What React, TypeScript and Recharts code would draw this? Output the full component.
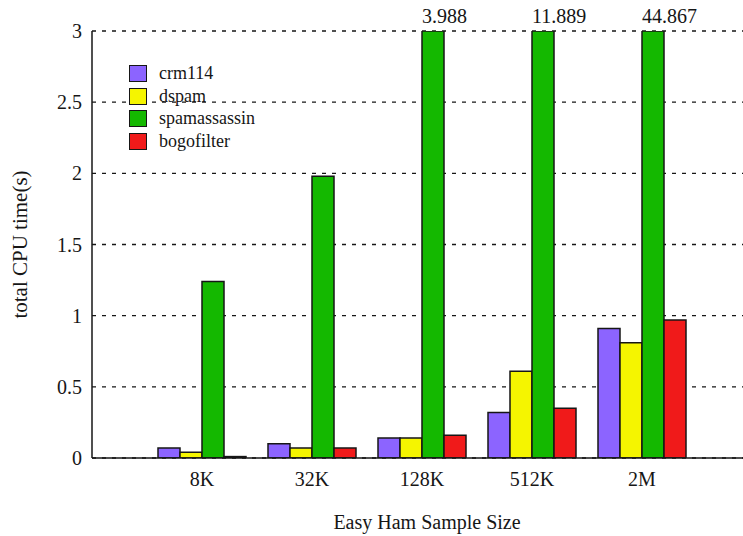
import { Bar, BarChart, CartesianGrid, LabelList, Legend, XAxis, YAxis } from 'recharts';

const sizes = ['8K', '32K', '128K', '512K', '2M'];
const crm114 = [0.07, 0.1, 0.14, 0.32, 0.91];
const dspam = [0.04, 0.07, 0.14, 0.61, 0.81];
const spamassassin = [1.24, 1.98, 3.988, 11.889, 44.867];
const bogofilter = [0.01, 0.07, 0.16, 0.35, 0.97];
const yTicks = [0, 0.5, 1, 1.5, 2, 2.5, 3];
const yMax = 3;

const FONT = '"Liberation Serif", "Times New Roman", serif';
const INK = '#161616';

const rows = sizes.map((size, i) => ({
  size,
  crm114: crm114[i],
  dspam: dspam[i],
  spamassassin: spamassassin[i],
  bogofilter: bogofilter[i],
}));

// gnuplot-ish key: boxes with a black frame, no background
function KeyBox({ payload }: any) {
  return (
    <div style={{ fontFamily: FONT, fontSize: 18, color: INK }}>
      {(payload || []).map((p: any) => (
        <div key={p.value} style={{ display: 'flex', alignItems: 'center', height: 22.7 }}>
          <span
            style={{
              width: 18,
              height: 17,
              boxSizing: 'border-box',
              border: `1.5px solid ${INK}`,
              background: p.color,
              marginRight: 12,
            }}
          />
          <span>{p.value}</span>
        </div>
      ))}
    </div>
  );
}

// value printed above green bars that run off the top
function OverflowLabel(p: any) {
  if (!(p.value > yMax)) return null;
  return (
    <text x={p.x} y={p.y - 8} fontSize={20} fontFamily={FONT} fill={INK}>
      {p.value}
    </text>
  );
}

const NoTick = () => <g />;

export default function App() {
  const tickStyle = { fontSize: 20, fontFamily: FONT, fill: INK };
  return (
    <div style={{ position: 'fixed', left: 0, top: 0, width: 743, height: 536, overflow: 'hidden', background: '#fff' }}>
      <BarChart
        width={752}
        height={536}
        data={rows}
        margin={{ top: 31, right: 0, bottom: 0, left: 0 }}
        barSize={22}
        barGap={0}
      >
        <CartesianGrid vertical={false} stroke={INK} strokeWidth={1.3} strokeDasharray="4 6" />
        <XAxis
          dataKey="size"
          height={78}
          padding={{ left: 55, right: 55 }}
          axisLine={{ stroke: INK, strokeWidth: 1.5 }}
          tickLine={false}
          tickSize={0}
          tickMargin={14}
          tick={tickStyle}
          label={({ viewBox }: any) => (
            <text
              x={viewBox.x + viewBox.width / 2 + 5}
              y={viewBox.y + 71}
              textAnchor="middle"
              fontSize={20}
              fontFamily={FONT}
              fill={INK}
            >
              Easy Ham Sample Size
            </text>
          )}
        />
        <XAxis
          xAxisId="top"
          dataKey="size"
          orientation="top"
          height={0}
          mirror
          padding={{ left: 55, right: 55 }}
          axisLine={{ stroke: INK, strokeWidth: 1.5 }}
          tickLine={{ stroke: INK, strokeWidth: 1.5 }}
          tickSize={11}
          tick={<NoTick />}
        />
        <YAxis
          width={92}
          domain={[0, yMax]}
          ticks={yTicks}
          allowDataOverflow
          axisLine={{ stroke: INK, strokeWidth: 1.5 }}
          tickLine={false}
          tickSize={0}
          tickMargin={10}
          tick={tickStyle}
          label={({ viewBox }: any) => {
            const cx = 20;
            const cy = viewBox.y + viewBox.height / 2;
            return (
              <text
                x={cx}
                y={cy}
                transform={`rotate(-90 ${cx} ${cy})`}
                textAnchor="middle"
                dominantBaseline="central"
                fontSize={21}
                fontFamily={FONT}
                fill={INK}
              >
                total CPU time(s)
              </text>
            );
          }}
        />
        <YAxis
          yAxisId="ticks"
          width={0}
          mirror
          domain={[0, yMax]}
          ticks={yTicks}
          axisLine={false}
          tickLine={{ stroke: INK, strokeWidth: 1.5 }}
          tickSize={10}
          tick={<NoTick />}
        />
        <Legend
          layout="horizontal"
          verticalAlign="middle"
          align="center"
          itemSorter={null as any}
          content={<KeyBox />}
          wrapperStyle={{ left: 129, top: 62, width: 'auto', height: 'auto' }}
        />
        <Bar dataKey="crm114" name="crm114" fill="#8c64ff" stroke={INK} strokeWidth={1.5} isAnimationActive={false} />
        <Bar dataKey="dspam" name="dspam" fill="#f5f500" stroke={INK} strokeWidth={1.5} isAnimationActive={false} />
        <Bar
          dataKey={(d: any) => Math.min(d.spamassassin, yMax)}
          name="spamassassin"
          fill="#14b800"
          stroke={INK}
          strokeWidth={1.5}
          isAnimationActive={false}
        >
          <LabelList dataKey="spamassassin" content={<OverflowLabel />} />
        </Bar>
        <Bar dataKey="bogofilter" name="bogofilter" fill="#f01a1a" stroke={INK} strokeWidth={1.5} isAnimationActive={false} />
      </BarChart>
    </div>
  );
}
